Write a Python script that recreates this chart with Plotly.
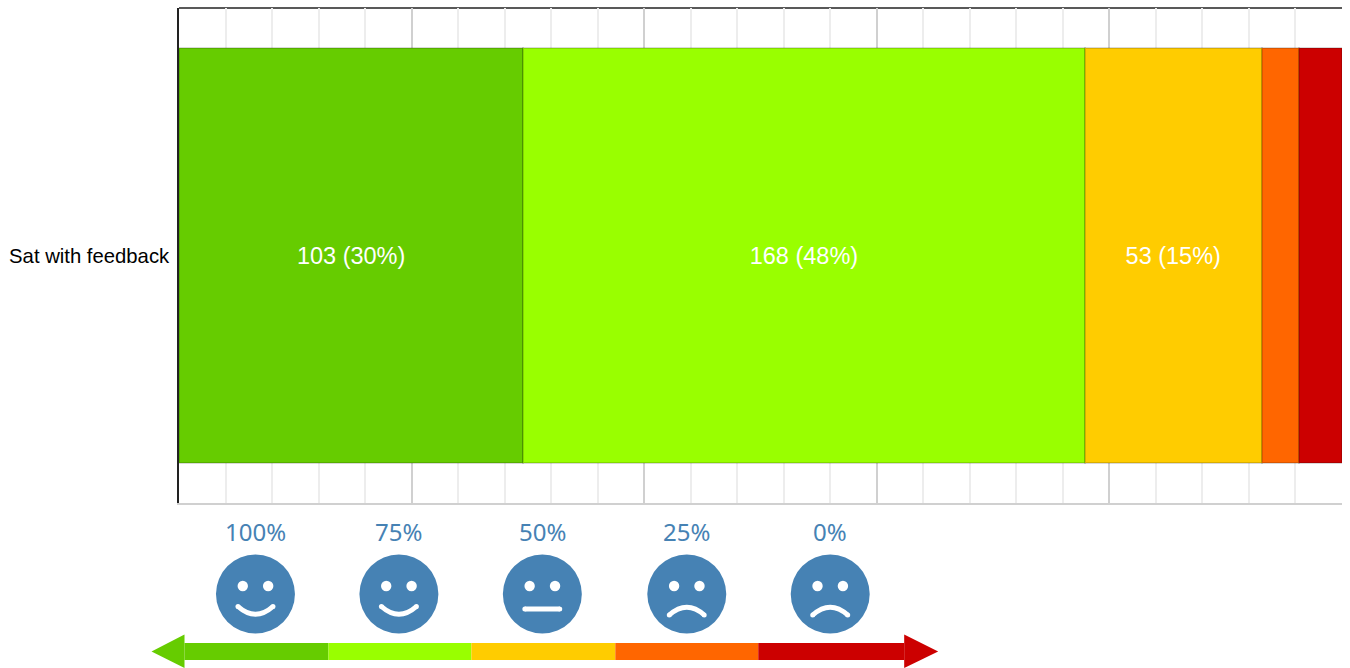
import plotly.graph_objects as go

W, H = 1350, 668
L, R, TOP, BOTTOM = 178.5, 1342, 8, 503

category = ["Sat with feedback"]
counts = [103, 168, 53, 11, 13]
bar_text = ["103 (30%)", "168 (48%)", "53 (15%)", "", ""]
colors = ["#66cc00", "#99ff00", "#ffcc00", "#ff6600", "#cc0000"]

scale_labels = ["100%", "75%", "50%", "25%", "0%"]
scale_moods = ["smile", "smile", "flat", "frown", "frown"]
face_x = [255, 398.5, 542, 686.5, 830]
arrow_breaks = [184, 328, 471, 615, 758, 904]
face_color = "#4682b4"


# page pixels to paper coordinates of the plot area
def px(x):
    return (x - L) / (R - L)


def py(y):
    return 1 - (y - TOP) / (BOTTOM - TOP)


def p(x, y):
    return f"{px(x):.5f},{py(y):.5f}"


def circle(cx, cy, r, color):
    return dict(type="circle", xref="paper", yref="paper", x0=px(cx - r), x1=px(cx + r),
                y0=py(cy + r), y1=py(cy - r), fillcolor=color, line_width=0, layer="above")


def path(d, fill=None, line=None, width=0):
    return dict(type="path", xref="paper", yref="paper", path=d, fillcolor=fill,
                line=dict(color=line, width=width), layer="above")


fig = go.Figure()

for n, value in enumerate(counts):
    fig.add_trace(
        go.Bar(
            y=category,
            x=[value],
            orientation="h",
            name=str(n),
            text=[bar_text[n]],
            textposition="inside",
            insidetextanchor="middle",
            textangle=0,
            textfont=dict(color="white", size=23.5, family="Liberation Sans"),
            marker=dict(color=colors[n], line=dict(color="rgba(0,0,0,0.15)", width=2)),
            hoverinfo="none",
            showlegend=False,
        )
    )

shapes = []
# black top edge of the plot
shapes.append(dict(type="line", xref="paper", yref="paper", x0=0, x1=1, y0=1, y1=1,
                   line=dict(color="#222222", width=1.5), layer="below"))

# faces
for x, mood in zip(face_x, scale_moods):
    shapes.append(circle(x, 594, 39.5, face_color))
    shapes.append(circle(x - 12.7, 586, 5.2, "white"))
    shapes.append(circle(x + 12.7, 586, 5.2, "white"))
    if mood == "smile":
        ends, ctrl = 606.5, 622
    elif mood == "frown":
        ends, ctrl = 615, 599.5
    else:
        ends, ctrl = 609, 609
    shapes.append(path(f"M {p(x - 17.5, ends)} Q {p(x, ctrl)} {p(x + 17.5, ends)}",
                       line="white", width=5))
    shapes.append(circle(x - 17.5, ends, 2.5, "white"))
    shapes.append(circle(x + 17.5, ends, 2.5, "white"))

# colour arrow
for n in range(len(colors)):
    shapes.append(dict(type="rect", xref="paper", yref="paper", x0=px(arrow_breaks[n]),
                       x1=px(arrow_breaks[n + 1]), y0=py(660), y1=py(643),
                       fillcolor=colors[n], line_width=0, layer="above"))
shapes.append(path(f"M {p(151, 651.5)} L {p(184, 634.5)} L {p(184, 668)} Z", fill=colors[0]))
shapes.append(path(f"M {p(938, 651.5)} L {p(904, 634.5)} L {p(904, 668)} Z", fill=colors[-1]))

annotations = [
    dict(xref="paper", yref="paper", x=px(x), y=py(531.5), text=label, showarrow=False,
         xanchor="center", yanchor="middle",
         font=dict(family="Noto Sans", size=24, color=face_color))
    for x, label in zip(face_x, scale_labels)
]

fig.update_layout(
    barmode="stack",
    barnorm="percent",
    bargap=0.162,
    width=W,
    height=H,
    autosize=False,
    margin=dict(l=L, r=W - R, t=TOP, b=H - BOTTOM, pad=0),
    plot_bgcolor="white",
    paper_bgcolor="white",
    shapes=shapes,
    annotations=annotations,
    xaxis=dict(
        range=[0, 100],
        dtick=20,
        showticklabels=False,
        showgrid=True,
        gridcolor="#d0d0d0",
        gridwidth=1.5,
        zeroline=False,
        showline=True,
        linecolor="#d0d0d0",
        linewidth=1.5,
        automargin=False,
        minor=dict(dtick=4, showgrid=True, gridcolor="#ededed", gridwidth=1.5),
    ),
    yaxis=dict(
        showline=True,
        linecolor="#222222",
        linewidth=1.5,
        layer="below traces",
        showgrid=False,
        zeroline=False,
        ticks="",
        automargin=False,
        ticklabelstandoff=4,
        tickfont=dict(family="Liberation Sans", size=20.3, color="black"),
    ),
)

# the page's default body margin would push the 1350 wide figure off to the side
fig.write_html("out.html", config=dict(displayModeBar=False),
               post_script="document.body.style.margin = '0';")
